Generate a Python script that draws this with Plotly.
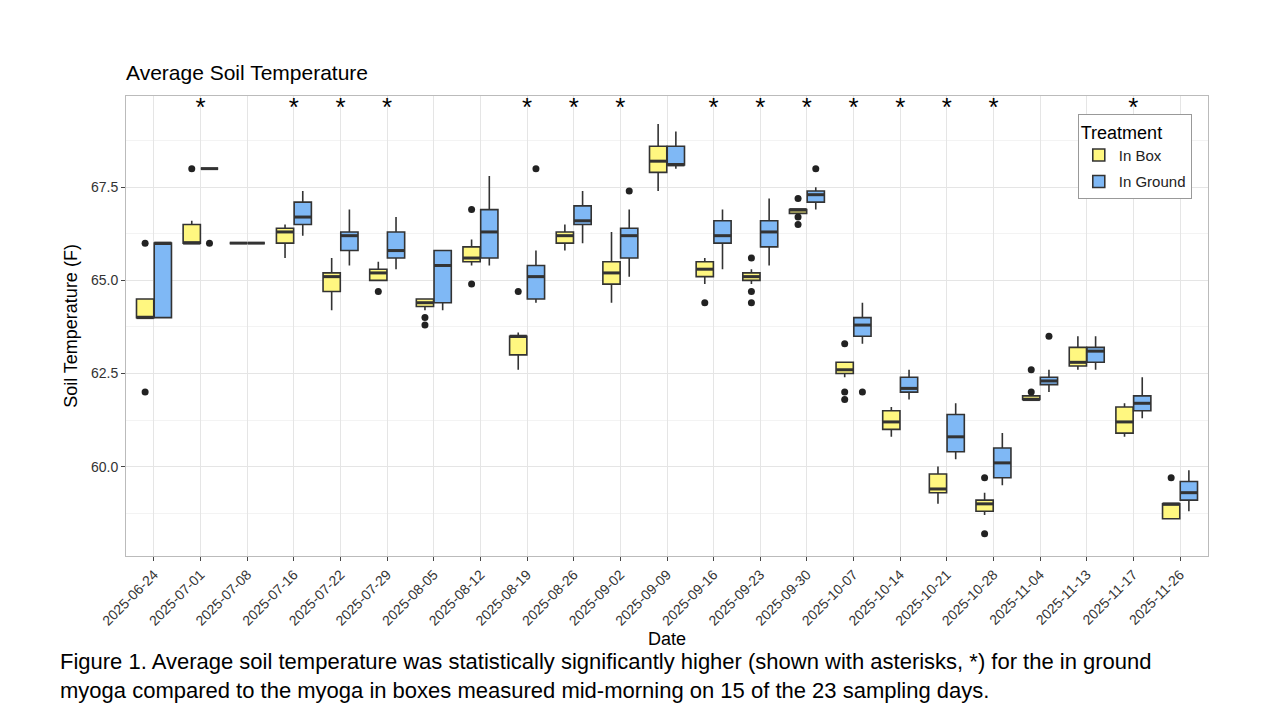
import plotly.graph_objects as go

dates = ["2025-06-24","2025-07-01","2025-07-08","2025-07-16","2025-07-22","2025-07-29","2025-08-05","2025-08-12",
         "2025-08-19","2025-08-26","2025-09-02","2025-09-09","2025-09-16","2025-09-23","2025-09-30","2025-10-07",
         "2025-10-14","2025-10-21","2025-10-28","2025-11-04","2025-11-13","2025-11-17","2025-11-26"]

box_lo  = [64.0,66.0,66.0,65.6,64.2,65.0,64.2,65.4,62.6,65.8,64.4,67.4,64.9,64.9,66.8,62.4,60.8,59.0,58.7,61.8,62.6,60.8,58.6]
box_q1  = [64.0,66.0,66.0,66.0,64.7,65.0,64.3,65.5,63.0,66.0,64.9,67.9,65.1,65.0,66.8,62.5,61.0,59.3,58.8,61.8,62.7,60.9,58.6]
box_med = [64.0,66.0,66.0,66.3,65.1,65.2,64.4,65.6,63.5,66.2,65.2,68.2,65.3,65.1,66.9,62.6,61.2,59.4,59.0,61.8,62.8,61.2,59.0]
box_q3  = [64.5,66.5,66.0,66.4,65.2,65.3,64.5,65.9,63.5,66.3,65.5,68.6,65.5,65.2,66.9,62.8,61.5,59.8,59.1,61.9,63.2,61.6,59.0]
box_hi  = [64.5,66.6,66.0,66.5,65.6,65.5,64.5,66.1,63.6,66.5,66.3,69.2,65.6,65.3,66.9,62.8,61.6,60.0,59.3,61.9,63.5,61.7,59.0]
box_out = [[66.0,62.0],[68.0],[],[],[],[64.7],[64.0,63.8],[66.9,64.9],[64.7],[],[],[],[64.4],[65.6,64.7,64.4],
           [67.2,66.7,66.5],[63.3,62.0,61.8],[],[],[59.7,58.2],[62.6,62.0],[],[],[59.7]]

gr_lo  = [64.0,68.0,66.0,66.2,65.4,65.3,64.2,65.4,64.4,66.0,65.1,68.0,65.3,65.4,66.9,63.3,61.8,60.2,59.5,62.0,62.6,61.3,58.8]
gr_q1  = [64.0,68.0,66.0,66.5,65.8,65.6,64.4,65.6,64.5,66.5,65.6,68.1,66.0,65.9,67.1,63.5,62.0,60.4,59.7,62.2,62.8,61.5,59.1]
gr_med = [66.0,68.0,66.0,66.7,66.2,65.8,65.4,66.3,65.1,66.6,66.2,68.1,66.2,66.3,67.3,63.8,62.1,60.8,60.1,62.3,63.1,61.7,59.3]
gr_q3  = [66.0,68.0,66.0,67.1,66.3,66.3,65.8,66.9,65.4,67.0,66.4,68.6,66.6,66.6,67.4,64.0,62.4,61.4,60.5,62.4,63.2,61.9,59.6]
gr_hi  = [66.0,68.0,66.0,67.4,66.9,66.7,65.8,67.8,65.8,67.4,66.9,69.0,66.9,67.2,67.5,64.4,62.6,61.7,60.9,62.6,63.5,62.4,59.9]
gr_out = [[],[66.0],[],[],[],[],[],[],[68.0],[],[67.4],[],[],[],[68.0],[62.0],[],[],[],[63.5],[],[],[]]

signif = ["2025-07-01","2025-07-16","2025-07-22","2025-07-29","2025-08-19","2025-08-26","2025-09-02","2025-09-16",
          "2025-09-23","2025-09-30","2025-10-07","2025-10-14","2025-10-21","2025-10-28","2025-11-17"]

fig = go.Figure()
off, w = 0.19, 0.37
def add(lo,q1,med,q3,hi,outs,sign,color,name):
    for i in range(len(dates)):
        x = i + sign*off
        fig.add_trace(go.Box(x=[x], q1=[q1[i]], median=[med[i]], q3=[q3[i]], lowerfence=[lo[i]], upperfence=[hi[i]],
                             width=w, fillcolor=color, line=dict(color="#333333", width=1.6), boxpoints=False,
                             name=name, legendgroup=name, showlegend=(i == 0), whiskerwidth=0))
        fig.add_trace(go.Scatter(x=[x - w/2, x + w/2], y=[med[i], med[i]], mode="lines",
                                 line=dict(color="#333333", width=3), showlegend=False, hoverinfo="skip"))
    xs, ys = [], []
    for i, o in enumerate(outs):
        for v in o:
            xs.append(i + sign*off); ys.append(v)
    fig.add_trace(go.Scatter(x=xs, y=ys, mode="markers", marker=dict(color="#222222", size=7), showlegend=False))

add(box_lo,box_q1,box_med,box_q3,box_hi,box_out,-1,"#FFF780","In Box")
add(gr_lo,gr_q1,gr_med,gr_q3,gr_hi,gr_out,1,"#7FB8F5","In Ground")

fig.add_trace(go.Scatter(x=[dates.index(d) for d in signif], y=[69.6]*len(signif), mode="text", text=["*"]*len(signif),
                         textfont=dict(size=26, color="black"), showlegend=False))

fig.update_layout(
    width=1280, height=720, plot_bgcolor="white", paper_bgcolor="white",
    font=dict(family="Liberation Sans, Arial", color="#222"),
    margin=dict(l=118, r=80, t=88, b=172, autoexpand=False),
    title=dict(text="Average Soil Temperature", x=118/1280, xanchor="left", y=1-65/720, yanchor="middle",
               font=dict(size=21, color="black")),
    legend=dict(x=0.985, y=0.96, xanchor="right", yanchor="top", bordercolor="#999", borderwidth=1,
                title=dict(text="Treatment", font=dict(size=18, color="black")), font=dict(size=15),
                bgcolor="white", tracegroupgap=4),
    xaxis=dict(range=[-0.6, 22.6], tickmode="array", tickvals=list(range(len(dates))), ticktext=dates,
               tickangle=-45, tickfont=dict(size=14, color="#333"), showgrid=True, gridcolor="#e5e5e5",
               showline=True, linecolor="#bbb", mirror=True, ticks="outside", ticklen=4, tickcolor="#444",
               title=dict(text="Date", font=dict(size=18, color="black"), standoff=4), zeroline=False, automargin=False),
    yaxis=dict(range=[57.6, 69.95], tickvals=[60, 62.5, 65, 67.5], ticktext=["60.0","62.5","65.0","67.5"],
               tickfont=dict(size=14, color="#333"), showgrid=True, gridcolor="#e5e5e5",
               minor=dict(tickvals=[58.75, 61.25, 63.75, 66.25, 68.75], showgrid=True, gridcolor="#f3f3f3"),
               showline=True, linecolor="#bbb", mirror=True, ticks="outside", ticklen=4, tickcolor="#444",
               title=dict(text="Soil Temperature (F)", font=dict(size=18, color="black"), standoff=8),
               zeroline=False, automargin=False),
)
fig.add_annotation(xref="paper", yref="paper", x=-68/1082, y=-(668-548)/460, xanchor="left", yanchor="middle",
                   align="left", showarrow=False, font=dict(size=22, color="black"),
                   text="Figure 1. Average soil temperature was statistically significantly higher (shown with asterisks, *) for the in ground<br>myoga compared to the myoga in boxes measured mid-morning on 15 of the 23 sampling days.")
fig.write_html("out.html")
